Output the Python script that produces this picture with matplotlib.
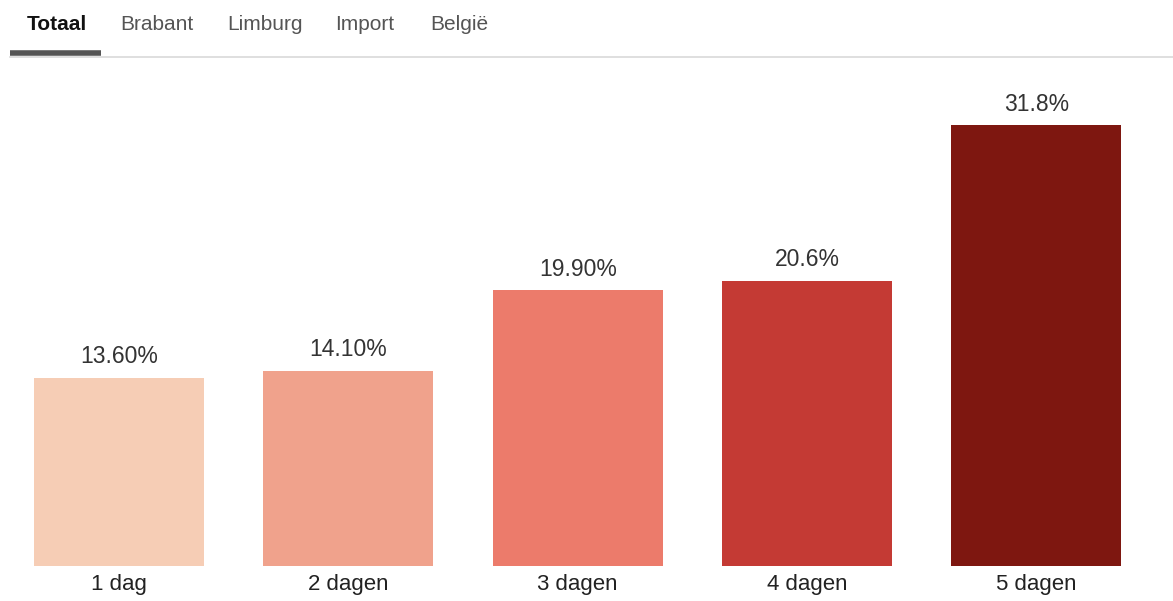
import matplotlib.pyplot as plt
from matplotlib.lines import Line2D

plt.rcParams['font.family'] = ['Liberation Sans', 'DejaVu Sans']

categories = ["1 dag", "2 dagen", "3 dagen", "4 dagen", "5 dagen"]
values = [13.6, 14.1, 19.9, 20.6, 31.8]
value_labels = ["13.60%", "14.10%", "19.90%", "20.6%", "31.8%"]
colors = ["#f6cdb5", "#f0a28c", "#ec7b6b", "#c43a34", "#7e1710"]
tabs = ["Totaal", "Brabant", "Limburg", "Import", "België"]
tab_x = [27, 120, 227, 335, 430]  # left edge of each tab label, pixels

W, H = 1173, 601
fig = plt.figure(figsize=(W / 100, H / 100), dpi=100)

# axes placed so bars land where they sit in the reference
left_px, right_px = 4.4, 1151
bottom_px, top_px = 566, 81
ax = fig.add_axes([left_px / W, 1 - bottom_px / H,
                   (right_px - left_px) / W, (bottom_px - top_px) / H])

x = range(len(categories))
bars = ax.bar(x, values, width=0.741, color=colors)
ax.set_xlim(-0.5, len(categories) - 0.5)
ax.set_ylim(0, 35)

for bar, lab in zip(bars, value_labels):
    ax.annotate(lab, (bar.get_x() + bar.get_width() / 2, bar.get_height()),
                xytext=(0, 7), textcoords="offset points",
                ha="center", va="bottom", fontsize=16.5, color="#333333")

ax.set_xticks(list(x))
ax.set_xticklabels(categories, fontsize=16, color="#222222")
ax.tick_params(axis="x", length=0, pad=6)
ax.set_yticks([])
for s in ax.spines.values():
    s.set_visible(False)

# tab bar at the top
for i, (t, px) in enumerate(zip(tabs, tab_x)):
    fig.text(px / W, 1 - 25 / H, t, ha="left", va="center", fontsize=15,
             fontweight="bold" if i == 0 else "normal",
             color="#111111" if i == 0 else "#555555")

fig.add_artist(Line2D([10 / W, 1], [1 - 56.5 / H] * 2, color="#d9d9d9", lw=1.2))
fig.add_artist(Line2D([10 / W, 101 / W], [1 - 53 / H] * 2, color="#555555",
                      lw=4, solid_capstyle="butt"))

fig.savefig("out.png", dpi=100)
